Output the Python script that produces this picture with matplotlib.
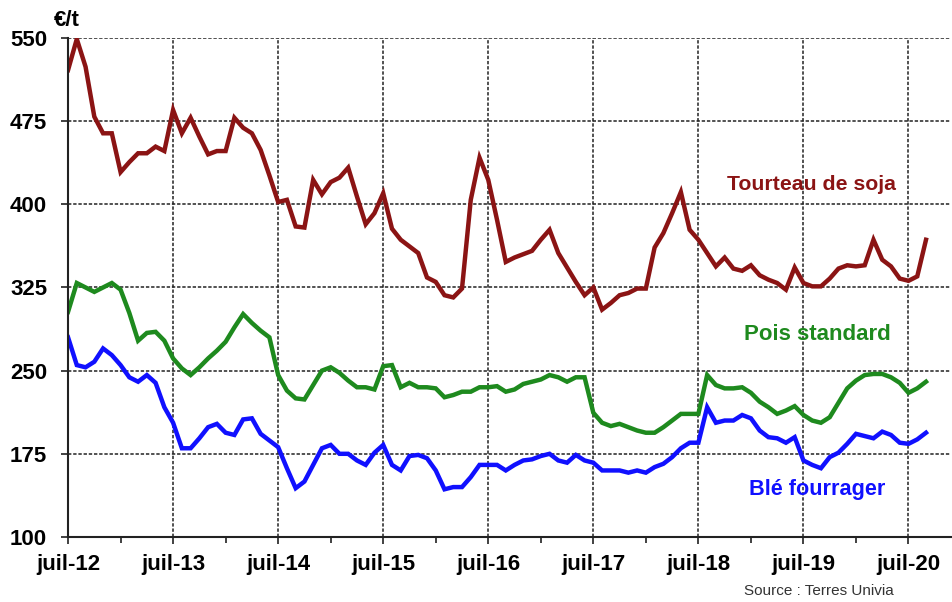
import matplotlib.pyplot as plt
import numpy as np

# monthly prices, juil-12 .. sept-20 (€/t)
soja = [521, 549, 524, 479, 464, 464, 429, 438, 446, 446, 452, 448,
        485, 464, 478, 461, 445, 448, 448, 478, 469, 464, 449, 426,
        402, 404, 380, 379, 422, 409, 420, 424, 433, 407, 382, 392,
        410, 378, 368, 362, 356, 334, 330, 318, 316, 324, 404, 442,
        422, 386, 348, 352, 355, 358, 368, 377, 356, 343, 330, 318,
        325, 305, 311, 318, 320, 324, 324, 361, 374, 392, 411, 377,
        368, 356, 344, 352, 342, 340, 345, 336, 332, 329, 323, 343,
        329, 326, 326, 333, 342, 345, 344, 345, 368, 350, 344, 333,
        331, 335, 368]
pois = [303, 329, 325, 321, 325, 329, 323, 302, 277, 284, 285, 277,
        261, 252, 246, 253, 261, 268, 276, 289, 301, 293, 286, 280,
        246, 232, 225, 224, 237, 250, 253, 248, 241, 235, 235, 233,
        254, 255, 235, 239, 235, 235, 234, 226, 228, 231, 231, 235,
        235, 236, 231, 233, 238, 240, 242, 246, 244, 240, 244, 244,
        212, 203, 200, 202, 199, 196, 194, 194, 199, 205, 211, 211,
        211, 246, 237, 234, 234, 235, 230, 222, 217, 211, 214, 218,
        210, 205, 203, 208, 221, 234, 241, 246, 247, 247, 244, 239,
        230, 234, 240]
ble = [280, 255, 253, 258, 270, 264, 255, 244, 240, 246, 239, 217,
       203, 180, 180, 189, 199, 202, 194, 192, 206, 207, 193, 187,
       181, 162, 144, 150, 165, 180, 183, 175, 175, 169, 165, 176,
       183, 165, 160, 173, 174, 171, 160, 143, 145, 145, 154, 165,
       165, 165, 160, 165, 169, 170, 173, 175, 169, 167, 174, 169,
       167, 160, 160, 160, 158, 160, 158, 163, 166, 172, 180, 185,
       185, 217, 203, 205, 205, 210, 207, 196, 190, 189, 185, 190,
       169, 165, 162, 172, 176, 184, 193, 191, 189, 195, 192, 185,
       184, 188, 194]
years = ['juil-12', 'juil-13', 'juil-14', 'juil-15', 'juil-16',
         'juil-17', 'juil-18', 'juil-19', 'juil-20']

months = np.arange(len(soja))

plt.rcParams['font.family'] = ['Liberation Sans', 'DejaVu Sans']

fig = plt.figure(figsize=(9.53, 6.02), dpi=100)
ax = fig.add_axes([0.0714, 0.108, 0.926, 0.829])

ax.plot(months, soja, color='#8B1414', lw=3.2, solid_joinstyle='miter')
ax.plot(months, pois, color='#1E8A1E', lw=3.2, solid_joinstyle='miter')
ax.plot(months, ble, color='#1010FF', lw=3.2, solid_joinstyle='miter')

ax.set_yticks(np.arange(100, 551, 75))
ax.set_xticks(np.arange(0, 12 * len(years), 12))
ax.set_xticklabels(years)
ax.set_xticks(np.arange(6, 12 * (len(years) - 1), 12), minor=True)
ax.set_xlim(0, 100.8)
ax.set_ylim(100, 550)

for lbl in ax.get_xticklabels() + ax.get_yticklabels():
    lbl.set_fontweight('bold')
    lbl.set_fontsize(16)
ax.tick_params(axis='both', which='major', direction='out', length=5,
               width=1.3, color='#333333')
ax.tick_params(axis='x', which='minor', direction='out', length=4,
               width=1.3, color='#333333')
ax.tick_params(axis='x', pad=7)
ax.tick_params(axis='y', pad=10)

ax.grid(True, which='major', color='#222222', ls=(0, (2.2, 1.2)), lw=1.1)
ax.set_axisbelow(True)
for side in ['top', 'right']:
    ax.spines[side].set_visible(False)
for side in ['left', 'bottom']:
    ax.spines[side].set_linewidth(1.5)
    ax.spines[side].set_color('#222222')

ax.text(-1.6, 556, '€/t', fontsize=16, fontweight='bold', ha='left', va='bottom')
ax.text(84.9, 418, 'Tourteau de soja', color='#8B1414', fontsize=15.3,
        fontweight='bold', ha='center', va='center')
ax.text(85.6, 283, 'Pois standard', color='#1E8A1E', fontsize=16,
        fontweight='bold', ha='center', va='center')
ax.text(85.6, 143, 'Blé fourrager', color='#1010FF', fontsize=15.6,
        fontweight='bold', ha='center', va='center')
fig.text(0.859, 0.006, 'Source : Terres Univia', fontsize=11, color='#333333',
         ha='center', va='bottom')

fig.savefig('out.png', dpi=100)
